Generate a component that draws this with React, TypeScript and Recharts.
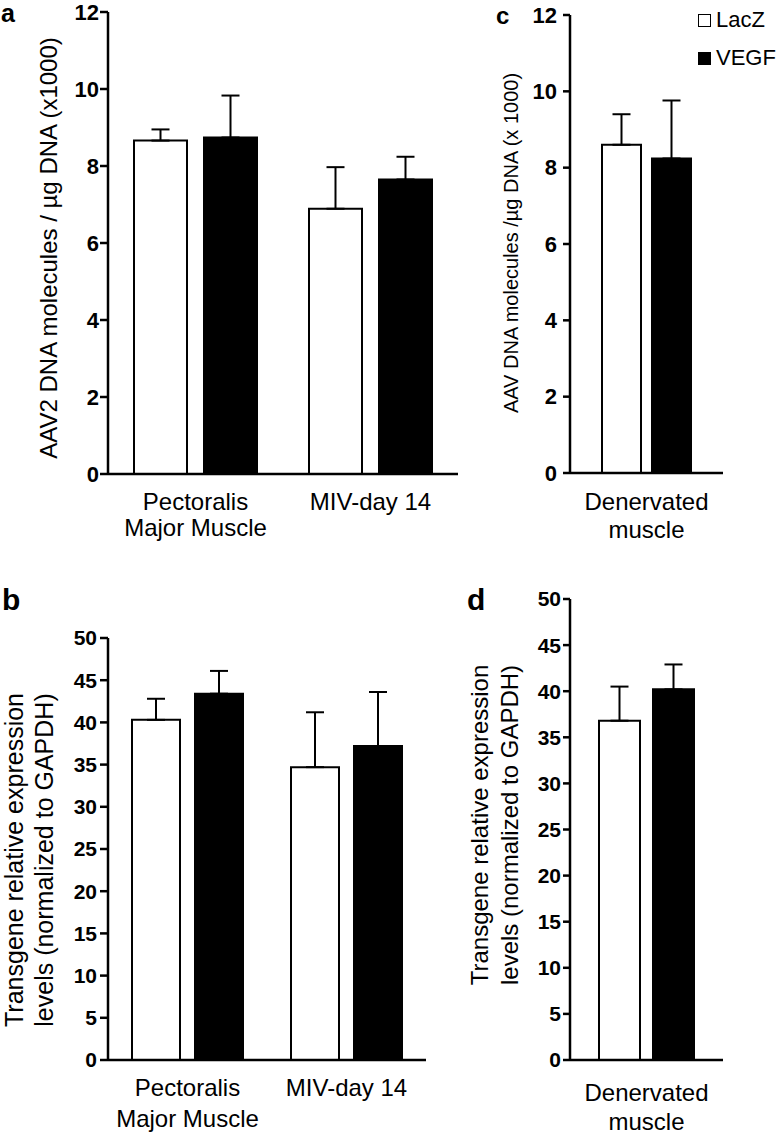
import React from 'react'
import { BarChart, Bar, XAxis, YAxis, ErrorBar, Legend } from 'recharts'

const FONT = '"Liberation Sans", Arial, Helvetica, sans-serif'
const INK = '#000'

// panel a: AAV2 DNA per µg DNA (x1000)
const dnaGroups = ['Pectoralis\nMajor Muscle', 'MIV-day 14']
const dnaLacZ = [8.66, 6.89]
const dnaLacZErr = [0.29, 1.08]
const dnaVegf = [8.74, 7.65]
const dnaVegfErr = [1.09, 0.59]
const dnaTicks = [0, 2, 4, 6, 8, 10, 12]

// panel c: denervated muscle, AAV DNA
const denGroups = ['Denervated\nmuscle']
const denDnaLacZ = [8.6]
const denDnaLacZErr = [0.8]
const denDnaVegf = [8.24]
const denDnaVegfErr = [1.52]

// panel b: transgene expression
const exprLacZ = [40.3, 34.7]
const exprLacZErr = [2.5, 6.5]
const exprVegf = [43.4, 37.2]
const exprVegfErr = [2.7, 6.4]
const exprTicks = [0, 5, 10, 15, 20, 25, 30, 35, 40, 45, 50]

// panel d: denervated muscle, expression
const denExprLacZ = [36.8]
const denExprLacZErr = [3.7]
const denExprVegf = [40.2]
const denExprVegfErr = [2.7]

const rows = (groups: string[], l: number[], le: number[], v: number[], ve: number[]) =>
  groups.map((g, i) => ({ group: g, lacz: l[i], laczErr: [0, le[i]], vegf: v[i], vegfErr: [0, ve[i]] }))

// rotated axis title, one or two lines
const YTitle = ({ lines, tx, ty, fs, lg = 30 }: { lines: string[]; tx: number; ty: number; fs: number; lg?: number }) => (
  <g>
    {lines.map((t, i) => {
      const lx = tx + i * lg
      return (
        <text
          key={i} x={lx} y={ty} transform={`rotate(-90 ${lx} ${ty})`}
          textAnchor="middle" dominantBaseline="central" fontFamily={FONT} fontSize={fs} fill={INK}
        >{t}</text>
      )
    })}
  </g>
)

const CatTick = ({ x, y, payload, base, step }: any) => (
  <text x={x} y={y + base} textAnchor="middle" fontFamily={FONT} fontSize={24} fill={INK}>
    {String(payload.value).split('\n').map((t, i) => (
      <tspan key={i} x={x} dy={i === 0 ? 0 : step}>{t}</tspan>
    ))}
  </text>
)

const LegendBox = () => (
  <div style={{ fontFamily: FONT, fontSize: 22, color: INK }}>
    {[['LacZ', '#fff'], ['VEGF', INK]].map(([name, fill]) => (
      <div key={name} style={{ display: 'flex', alignItems: 'center', height: 38 }}>
        <span style={{ width: 11, height: 11, border: `1.5px solid ${INK}`, background: fill, marginRight: 5 }} />
        {name}
      </div>
    ))}
  </div>
)

type PanelProps = {
  left: number; top: number; width: number; height: number
  margin: { top: number; right: number; left: number; bottom: number }
  yWidth: number; data: any[]; yTicks: number[]
  tickSize: number; tickMargin: number; tickFont: number
  title: React.ReactElement
  catGap: number; barGap: number
  labelBase: number; labelGap: number
  legend?: boolean
}

function Panel(p: PanelProps) {
  const n = p.data.length
  const edges = Array.from({ length: n + 1 }, (_, i) => i)
  const axisStroke = { stroke: INK, strokeWidth: 2.5 }
  return (
    <div style={{ position: 'absolute', left: p.left, top: p.top }}>
      <BarChart
        width={p.width} height={p.height} data={p.data} margin={p.margin}
        barCategoryGap={p.catGap} barGap={p.barGap}
      >
        <XAxis
          xAxisId="edge" type="number" domain={[0, n]} ticks={edges} interval={0}
          tick={false} axisLine={false} tickLine={axisStroke} tickSize={7} height={0}
        />
        <XAxis
          xAxisId="cat" dataKey="group" interval={0} height={60}
          axisLine={axisStroke} tickLine={false} tickSize={0} tickMargin={0}
          tick={(t: any) => <CatTick {...t} base={p.labelBase} step={p.labelGap} />}
        />
        <YAxis
          width={p.yWidth} domain={[0, p.yTicks[p.yTicks.length - 1]]} ticks={p.yTicks} interval={0}
          axisLine={axisStroke} tickLine={axisStroke} tickSize={p.tickSize} tickMargin={p.tickMargin}
          tick={{ fill: INK, fontSize: p.tickFont, fontWeight: 'bold', fontFamily: FONT }}
          label={p.title}
        />
        {p.legend && (
          <Legend
            layout="vertical" align="center" verticalAlign="middle" content={LegendBox}
            wrapperStyle={{ left: 233, top: 1, right: 'auto', bottom: 'auto', width: 90 }}
          />
        )}
        <Bar xAxisId="cat" dataKey="lacz" name="LacZ" fill="#fff" stroke={INK} strokeWidth={2} isAnimationActive={false}>
          <ErrorBar dataKey="laczErr" direction="y" width={9} stroke={INK} strokeWidth={2} />
        </Bar>
        <Bar xAxisId="cat" dataKey="vegf" name="VEGF" fill={INK} stroke={INK} strokeWidth={2} isAnimationActive={false}>
          <ErrorBar dataKey="vegfErr" direction="y" width={9} stroke={INK} strokeWidth={2} />
        </Bar>
      </BarChart>
    </div>
  )
}

const letters = [
  { t: 'a', x: 1, y: 22, size: 25 },
  { t: 'c', x: 496, y: 24, size: 24 },
  { t: 'b', x: 2, y: 610, size: 30 },
  { t: 'd', x: 467, y: 610, size: 30 },
]

export default function App() {
  return (
    <div style={{ position: 'absolute', left: 0, top: 0, width: 783, height: 1135, background: '#fff', overflow: 'hidden' }}>
      <Panel
        left={0} top={0} width={465} height={550}
        margin={{ top: 12, right: 7, left: 0, bottom: 16 }} yWidth={108}
        data={rows(dnaGroups, dnaLacZ, dnaLacZErr, dnaVegf, dnaVegfErr)} yTicks={dnaTicks}
        tickSize={8} tickMargin={1} tickFont={22}
        title={<YTitle lines={['AAV2 DNA molecules / µg DNA (x1000)']} tx={48} ty={248} fs={24} />}
        catGap={26} barGap={17} labelBase={36} labelGap={26}
      />
      <Panel
        left={465} top={0} width={318} height={550}
        margin={{ top: 15, right: 60, left: 0, bottom: 17 }} yWidth={105}
        data={rows(denGroups, denDnaLacZ, denDnaLacZErr, denDnaVegf, denDnaVegfErr)} yTicks={dnaTicks}
        tickSize={7} tickMargin={6} tickFont={22}
        title={<YTitle lines={['AAV DNA molecules /µg DNA (x 1000)']} tx={46} ty={243} fs={20} />}
        catGap={32} barGap={11} labelBase={37} labelGap={28} legend
      />
      <Panel
        left={0} top={560} width={465} height={575}
        margin={{ top: 78, right: 39, left: 0, bottom: 15 }} yWidth={108}
        data={rows(dnaGroups, exprLacZ, exprLacZErr, exprVegf, exprVegfErr)} yTicks={exprTicks}
        tickSize={8} tickMargin={3} tickFont={21}
        title={<YTitle lines={['Transgene relative expression', 'levels (normalized to GAPDH)']} tx={14} ty={300} fs={25} />}
        catGap={24} barGap={15} labelBase={36} labelGap={31}
      />
      <Panel
        left={465} top={560} width={318} height={575}
        margin={{ top: 39, right: 60, left: 0, bottom: 15 }} yWidth={105}
        data={rows(denGroups, denExprLacZ, denExprLacZErr, denExprVegf, denExprVegfErr)} yTicks={exprTicks}
        tickSize={7} tickMargin={2} tickFont={21}
        title={<YTitle lines={['Transgene relative expression', 'levels (normalized to GAPDH)']} tx={14} ty={265} fs={24} />}
        catGap={29} barGap={13} labelBase={41} labelGap={29}
      />
      <svg width={783} height={1135} style={{ position: 'absolute', left: 0, top: 0, pointerEvents: 'none' }}>
        {letters.map(l => (
          <text key={l.t} x={l.x} y={l.y} fontFamily={FONT} fontWeight="bold" fontSize={l.size} fill={INK}>{l.t}</text>
        ))}
      </svg>
    </div>
  )
}
